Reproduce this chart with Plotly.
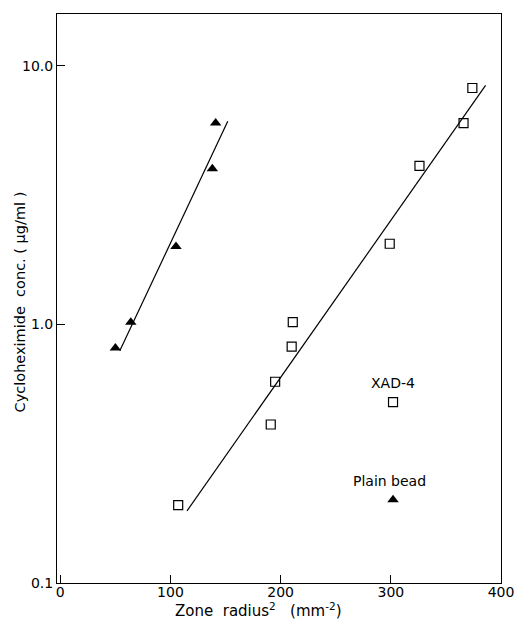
import math
import plotly.graph_objects as go

# Data
tri_x = [50, 64, 105, 138, 141]
tri_y = [0.81, 1.02, 2.0, 4.0, 6.0]
sq_x = [107, 191, 195, 210, 211, 299, 326, 366, 374]
sq_y = [0.20, 0.41, 0.60, 0.82, 1.02, 2.05, 4.1, 6.0, 8.2]
tri_fit_x = [54, 152]
tri_fit_y = [0.79, 6.1]
sq_fit_x = [115, 386]
sq_fit_y = [0.19, 8.4]
xad_x = [302]
xad_y = [0.50]
plain_x = [302]
plain_y = [0.21]
x_ticks = [0, 100, 200, 300, 400]
y_ticks = [0.1, 1.0, 10.0]
y_ticktext = ["0.1", "1.0", "10.0"]
labels = ["XAD-4", "Plain bead"]
label_x = [302, 298.6]
label_y = [0.593, 0.248]

FONT = "DejaVu Sans"
black = "black"

fig = go.Figure()
fig.add_trace(go.Scatter(x=tri_fit_x, y=tri_fit_y, mode="lines",
                         line=dict(color=black, width=1.2), showlegend=False))
fig.add_trace(go.Scatter(x=sq_fit_x, y=sq_fit_y, mode="lines",
                         line=dict(color=black, width=1.2), showlegend=False))
fig.add_trace(go.Scatter(x=tri_x, y=tri_y, mode="markers",
                         marker=dict(symbol="triangle-up", size=10, color=black,
                                     line=dict(width=0)), showlegend=False))
fig.add_trace(go.Scatter(x=sq_x, y=sq_y, mode="markers",
                         marker=dict(symbol="square-open", size=9, color=black,
                                     line=dict(width=1.2)), showlegend=False))
fig.add_trace(go.Scatter(x=xad_x, y=xad_y, mode="markers",
                         marker=dict(symbol="square-open", size=9, color=black,
                                     line=dict(width=1.2)), showlegend=False))
fig.add_trace(go.Scatter(x=plain_x, y=plain_y, mode="markers",
                         marker=dict(symbol="triangle-up", size=10, color=black,
                                     line=dict(width=0)), showlegend=False))

for t, lx, ly in zip(labels, label_x, label_y):
    fig.add_annotation(x=lx, y=math.log10(ly), text=t, showarrow=False,
                       font=dict(family=FONT, size=14, color=black))

fig.add_annotation(xref="paper", yref="paper", x=0.453, y=-0.047,
                   xanchor="center", yanchor="middle",
                   text="Zone  radius<sup>2</sup>   (mm<sup>-2</sup>)", showarrow=False,
                   font=dict(family=FONT, size=15, color=black))
fig.add_annotation(xref="paper", yref="paper", x=-0.0844, y=0.494, textangle=-90,
                   xanchor="center", yanchor="middle",
                   text="Cycloheximide  conc. ( µg/ml )", showarrow=False,
                   font=dict(family=FONT, size=14.5, color=black))

fig.update_xaxes(range=[-3, 400], tickvals=x_ticks, ticks="inside", ticklen=8,
                 tickcolor=black, showline=True, linecolor=black, linewidth=1,
                 mirror=True, showgrid=False, zeroline=False, ticklabelstandoff=-4,
                 tickfont=dict(family=FONT, size=14, color=black))
fig.update_yaxes(type="log", range=[-1, 1.2], tickvals=y_ticks, ticktext=y_ticktext,
                 ticks="inside", ticklen=8, tickcolor=black, showline=True,
                 linecolor=black, linewidth=1, mirror=True, showgrid=False,
                 zeroline=False,
                 tickfont=dict(family=FONT, size=14, color=black))

fig.update_layout(width=526, height=620, plot_bgcolor="white", paper_bgcolor="white",
                  margin=dict(l=57, r=19, t=14, b=37), showlegend=False,
                  font=dict(family=FONT, size=14, color=black))

fig.write_html("out.html", config={"displayModeBar": False},
               post_script="document.body.style.margin='0';document.body.style.overflow='hidden';")
